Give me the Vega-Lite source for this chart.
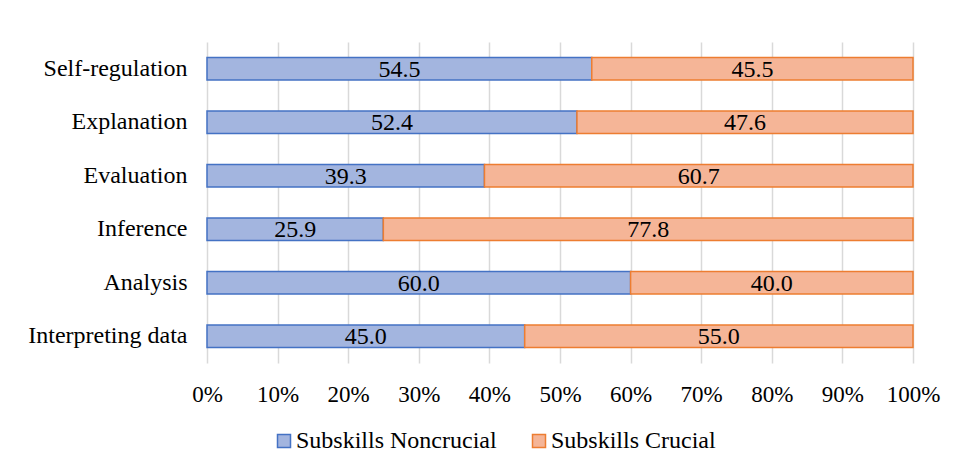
{
  "$schema": "https://vega.github.io/schema/vega-lite/v6.json",
  "width": 706,
  "height": 321,
  "autosize": {"type": "none"},
  "padding": {"left": 207, "top": 42, "right": 45, "bottom": 110},
  "background": "white",
  "data": {
    "values": [
      {"skill": "Self-regulation", "group": "Subskills Noncrucial", "k": 0, "value": 54.5},
      {"skill": "Self-regulation", "group": "Subskills Crucial", "k": 1, "value": 45.5},
      {"skill": "Explanation", "group": "Subskills Noncrucial", "k": 0, "value": 52.4},
      {"skill": "Explanation", "group": "Subskills Crucial", "k": 1, "value": 47.6},
      {"skill": "Evaluation", "group": "Subskills Noncrucial", "k": 0, "value": 39.3},
      {"skill": "Evaluation", "group": "Subskills Crucial", "k": 1, "value": 60.7},
      {"skill": "Inference", "group": "Subskills Noncrucial", "k": 0, "value": 25.9},
      {"skill": "Inference", "group": "Subskills Crucial", "k": 1, "value": 77.8},
      {"skill": "Analysis", "group": "Subskills Noncrucial", "k": 0, "value": 60.0},
      {"skill": "Analysis", "group": "Subskills Crucial", "k": 1, "value": 40.0},
      {"skill": "Interpreting data", "group": "Subskills Noncrucial", "k": 0, "value": 45.0},
      {"skill": "Interpreting data", "group": "Subskills Crucial", "k": 1, "value": 55.0}
    ]
  },
  "transform": [
    {"stack": "value", "groupby": ["skill"], "sort": [{"field": "k", "order": "ascending"}], "offset": "normalize", "as": ["x0", "x1"]},
    {"calculate": "(datum.x0 + datum.x1) / 2", "as": "mid"}
  ],
  "encoding": {
    "y": {
      "field": "skill",
      "type": "nominal",
      "sort": ["Self-regulation", "Explanation", "Evaluation", "Inference", "Analysis", "Interpreting data"],
      "scale": {"paddingInner": 0.58, "paddingOuter": 0.29},
      "axis": {
        "title": null,
        "domain": false,
        "ticks": false,
        "labelPadding": 20,
        "labelFont": "Liberation Serif",
        "labelFontSize": 24,
        "labelColor": "#000000"
      }
    }
  },
  "layer": [
    {
      "mark": {"type": "bar", "strokeWidth": 1.5},
      "encoding": {
        "x": {
          "field": "x0",
          "type": "quantitative",
          "scale": {"domain": [0, 1], "nice": false},
          "axis": {
            "title": null,
            "format": "%",
            "values": [0, 0.1, 0.2, 0.3, 0.4, 0.5, 0.6, 0.7, 0.8, 0.9, 1],
            "domain": false,
            "ticks": false,
            "labelAlign": "center",
            "labelFlush": false,
            "labelPadding": 20,
            "labelFont": "Liberation Serif",
            "labelFontSize": 23,
            "labelColor": "#000000",
            "gridColor": "#d9d9d9",
            "gridWidth": 1.5
          }
        },
        "x2": {"field": "x1"},
        "fill": {
          "field": "group",
          "type": "nominal",
          "scale": {"domain": ["Subskills Noncrucial", "Subskills Crucial"], "range": ["#a3b5df", "#f5b597"]},
          "legend": {
            "title": null,
            "orient": "none",
            "legendX": 65,
            "legendY": 387,
            "direction": "horizontal",
            "symbolType": "square",
            "symbolSize": 169,
            "symbolStrokeWidth": 1.5,
            "labelFont": "Liberation Serif",
            "labelFontSize": 24,
            "labelColor": "#000000",
            "labelLimit": 400,
            "labelOffset": 0,
            "columnPadding": 30
          }
        },
        "stroke": {
          "field": "group",
          "type": "nominal",
          "scale": {"domain": ["Subskills Noncrucial", "Subskills Crucial"], "range": ["#4472c4", "#ed7d31"]},
          "legend": null
        }
      }
    },
    {
      "mark": {"type": "text", "font": "Liberation Serif", "fontSize": 24, "color": "#000000", "baseline": "middle", "dy": 1},
      "encoding": {
        "x": {"field": "mid", "type": "quantitative"},
        "text": {"field": "value", "type": "quantitative", "format": ".1f"}
      }
    }
  ],
  "config": {
    "view": {"stroke": null}
  }
}
